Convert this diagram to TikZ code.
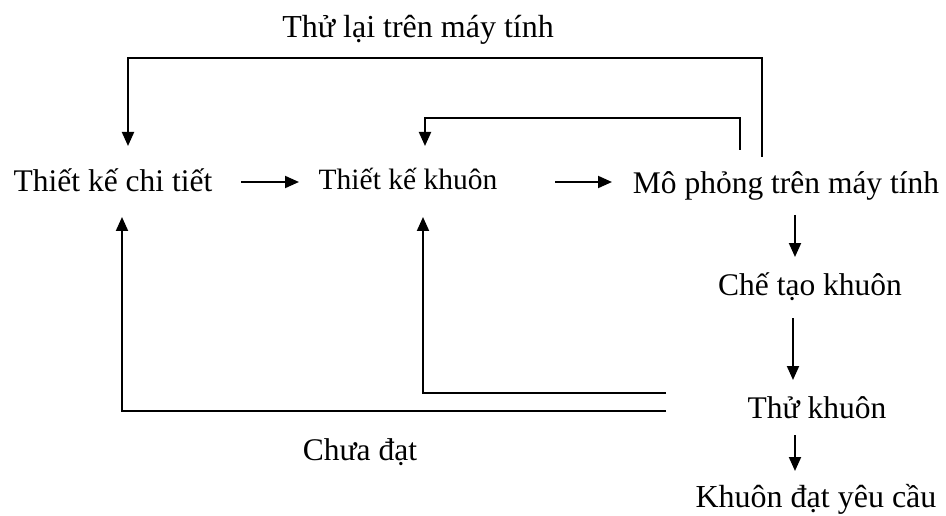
\documentclass[tikz,border=0pt]{standalone}
\usepackage{fontspec}
\setmainfont{Liberation Serif}
\usetikzlibrary{arrows.meta}
\begin{document}
\begin{tikzpicture}[x=1pt,y=-1pt,
  lbl/.style={inner sep=0pt,anchor=base,font=\fontsize{31.5}{36}\selectfont},
  link/.style={line width=2pt},
  arr/.style={link,-{Triangle[length=14pt,width=12pt]}}]
\useasboundingbox[fill=white] (0,0) rectangle (946,516);

% process steps
\node[lbl] (ct)  at (113,192) {Thiết kế chi tiết};
\node[lbl,font=\fontsize{29.5}{34}\selectfont] (tk) at (408,190) {Thiết kế khuôn};
\node[lbl] (mp)  at (786,194) {Mô phỏng trên máy tính};
\node[lbl] (ch)  at (810,295) {Chế tạo khuôn};
\node[lbl] (th)  at (817,418) {Thử khuôn};
\node[lbl,font=\fontsize{32}{36}\selectfont] (kd) at (816,507) {Khuôn đạt yêu cầu};

% loop labels
\node[lbl,font=\fontsize{32}{36}\selectfont] (lbltop) at (418,38) {Thử lại trên máy tính};
\node[lbl] (lblbot) at (360,460) {Chưa đạt};

% main flow
\coordinate (a1s) at (241,182); \coordinate (a1e) at (299,182);
\coordinate (a2s) at (555,182); \coordinate (a2e) at (612,182);
\coordinate (a3s) at (795,215); \coordinate (a3e) at (795,257);
\coordinate (a4s) at (793,318); \coordinate (a4e) at (793,380);
\coordinate (a5s) at (795,435); \coordinate (a5e) at (795,471);
\draw[arr] (a1s) -- (a1e);
\draw[arr] (a2s) -- (a2e);
\draw[arr] (a3s) -- (a3e);
\draw[arr] (a4s) -- (a4e);
\draw[arr] (a5s) -- (a5e);

% retry on computer: back to part design
\coordinate (toprow) at (0,58);
\coordinate (r1) at (762,157);
\coordinate (r2) at (128,146);
\draw[arr] (r1) -- (r1 |- toprow) -| (r2);
% back to mould design
\coordinate (midrow) at (0,118);
\coordinate (s1) at (740,150);
\coordinate (s2) at (425,146);
\draw[arr] (s1) -- (s1 |- midrow) -| (s2);

% not passed: feedback from mould testing
\coordinate (b1) at (666,411);
\coordinate (b2) at (122,217);
\draw[arr] (b1) -| (b2);
\coordinate (c1) at (666,393);
\coordinate (c2) at (423,217);
\draw[arr] (c1) -| (c2);
\end{tikzpicture}
\end{document}
